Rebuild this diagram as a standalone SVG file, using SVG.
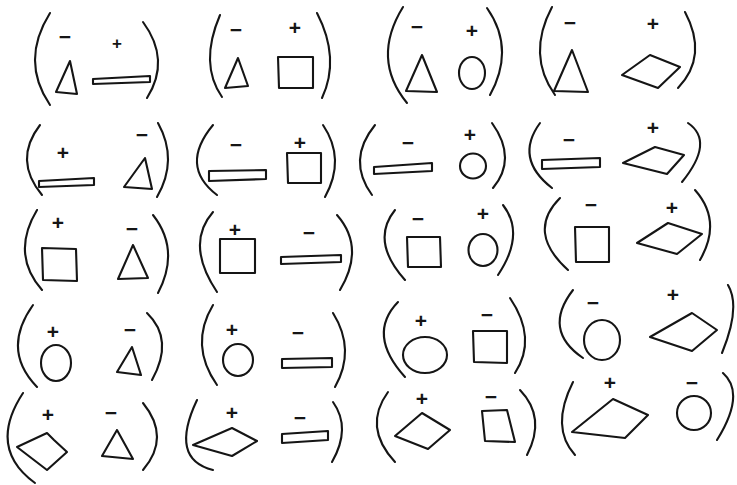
<svg xmlns="http://www.w3.org/2000/svg" width="737" height="485" viewBox="0 0 737 485">
<style>
.s{fill:none;stroke:#151515;stroke-width:2.1;stroke-linecap:round;stroke-linejoin:round}
.t{font-family:"Liberation Sans",Arial,sans-serif;font-size:21px;font-weight:bold;fill:#151515;text-anchor:middle}
.sm{font-size:17px}
</style>
<rect width="737" height="485" fill="#ffffff"/>
<g id="pair1">
<path class="s" d="M50,13 Q20,61 50,105"/><path class="s" d="M143,22 Q171,60 147,98"/>
<text class="t" x="65" y="44">−</text><text class="t sm" x="117" y="49">+</text>
<polygon class="s" points="70,61 56,92 77,94"/>
<polygon class="s" points="93,79 150,76 150,82 93,84"/>
</g>
<g id="pair2">
<path class="s" d="M220,15 Q199,64 222,97"/><path class="s" d="M317,13 Q340.5,58.5 322,98"/>
<text class="t" x="236" y="37">−</text><text class="t" x="295" y="35">+</text>
<polygon class="s" points="238,58 225,88 248,86"/>
<polygon class="s" points="278,57 313,57 313,88 279,88"/>
</g>
<g id="pair3">
<path class="s" d="M403,7 Q371,59 407,103"/><path class="s" d="M487,8 Q515.5,48.5 490,95"/>
<text class="t" x="417" y="34">−</text><text class="t" x="472" y="38">+</text>
<polygon class="s" points="422,55 406,91 437,92"/>
<ellipse class="s" cx="472" cy="73" rx="13" ry="16"/>
</g>
<g id="pair4">
<path class="s" d="M552,7 Q526.5,55 555,95"/><path class="s" d="M685,12 Q708.5,56 678,88"/>
<text class="t" x="570" y="30">−</text><text class="t" x="653" y="31">+</text>
<polygon class="s" points="572,50 554,91 588,92"/>
<polygon class="s" points="622,75 650,55 680,67 658,88"/>
</g>
<g id="pair5">
<path class="s" d="M40,125 Q13,160 42,195"/><path class="s" d="M158,123 Q178.5,160 157,197"/>
<text class="t" x="63" y="160">+</text><text class="t" x="142" y="142">−</text>
<polygon class="s" points="39,181 94,178 94,185 39,187"/>
<polygon class="s" points="145,158 124,187 152,189"/>
</g>
<g id="pair6">
<path class="s" d="M213,125 Q179,166 217,195"/><path class="s" d="M323,125 Q346,159 325,197"/>
<text class="t" x="236" y="152">−</text><text class="t" x="300" y="150">+</text>
<polygon class="s" points="209,171 266,170 266,179 209,181"/>
<polygon class="s" points="287,153 321,153 321,183 288,183"/>
</g>
<g id="pair7">
<path class="s" d="M375,125 Q346.5,160 372,195"/><path class="s" d="M492,123 Q517.5,158.5 493,188"/>
<text class="t" x="408" y="150">−</text><text class="t" x="470" y="142">+</text>
<polygon class="s" points="374,167 432,163 432,171 374,174"/>
<ellipse class="s" cx="473" cy="166" rx="13" ry="12.5"/>
</g>
<g id="pair8">
<path class="s" d="M540,123 Q514,158.5 552,188"/><path class="s" d="M688,123 Q715,141.5 682,182"/>
<text class="t" x="569" y="147">−</text><text class="t" x="653" y="135">+</text>
<polygon class="s" points="542,160 600,158 600,167 542,169"/>
<polygon class="s" points="623,163 655,147 684,155 667,174"/>
</g>
<g id="pair9">
<path class="s" d="M37,210 Q10.5,254 42,290"/><path class="s" d="M153,215 Q180.5,250 158,293"/>
<text class="t" x="58" y="230">+</text><text class="t" x="132" y="236">−</text>
<polygon class="s" points="42,248 76,249 77,281 43,280"/>
<polygon class="s" points="133,245 118,279 148,278"/>
</g>
<g id="pair10">
<path class="s" d="M213,212 Q185,244 217,292"/><path class="s" d="M337,215 Q365.5,247.5 340,290"/>
<text class="t" x="235" y="237">+</text><text class="t" x="309" y="240">−</text>
<polygon class="s" points="220,239 255,239 255,273 220,273"/>
<polygon class="s" points="281,257 341,255 341,262 281,264"/>
</g>
<g id="pair11">
<path class="s" d="M395,210 Q370,241 405,280"/><path class="s" d="M503,205 Q525.5,234 498,275"/>
<text class="t" x="418" y="226">−</text><text class="t" x="483" y="221">+</text>
<polygon class="s" points="407,237 440,237 441,267 408,267"/>
<ellipse class="s" cx="483" cy="250" rx="14.5" ry="16"/>
</g>
<g id="pair12">
<path class="s" d="M560,198 Q526,232 568,270"/><path class="s" d="M695,190 Q722.5,221 700,260"/>
<text class="t" x="591" y="212">−</text><text class="t" x="672" y="215">+</text>
<polygon class="s" points="575,227 609,227 609,262 576,262"/>
<polygon class="s" points="637,243 668,223 702,234 677,254"/>
</g>
<g id="pair13">
<path class="s" d="M33,305 Q1,350 37,387"/><path class="s" d="M147,313 Q174.5,339.5 152,380"/>
<text class="t" x="53" y="339">+</text><text class="t" x="130" y="337">−</text>
<ellipse class="s" cx="56" cy="363" rx="15" ry="18"/>
<polygon class="s" points="132,347 117,372 141,375"/>
</g>
<g id="pair14">
<path class="s" d="M213,305 Q189,345 217,385"/><path class="s" d="M333,313 Q356,350 335,387"/>
<text class="t" x="232" y="337">+</text><text class="t" x="298" y="340">−</text>
<ellipse class="s" cx="238" cy="360" rx="15" ry="16"/>
<polygon class="s" points="282,359 332,358 332,367 282,368"/>
</g>
<g id="pair15">
<path class="s" d="M398,302 Q366.5,334.5 405,377"/><path class="s" d="M510,298 Q537.5,338.5 515,373"/>
<text class="t" x="421" y="328">+</text><text class="t" x="487" y="322">−</text>
<ellipse class="s" cx="425" cy="355" rx="22" ry="18"/>
<polygon class="s" points="473,331 507,331 507,363 474,362"/>
</g>
<g id="pair16">
<path class="s" d="M573,290 Q542,330 583,358"/><path class="s" d="M728,285 Q741,307 722,353"/>
<text class="t" x="593" y="310">−</text><text class="t" x="673" y="302">+</text>
<ellipse class="s" cx="602" cy="340" rx="18" ry="20"/>
<polygon class="s" points="650,337 692,313 717,330 692,351"/>
</g>
<g id="pair17">
<path class="s" d="M23,393 Q-13,448 35,483"/><path class="s" d="M143,403 Q171,437.5 143,470"/>
<text class="t" x="48" y="422">+</text><text class="t" x="111" y="420">−</text>
<polygon class="s" points="17,447 47,433 54,440 67,452 47,470"/>
<polygon class="s" points="117,430 102,456 133,459"/>
</g>
<g id="pair18">
<path class="s" d="M197,400 Q169,459 213,470"/><path class="s" d="M333,402 Q351.5,428 332,462"/>
<text class="t" x="232" y="420">+</text><text class="t" x="300" y="425">−</text>
<polygon class="s" points="193,445 232,428 257,441 232,456"/>
<polygon class="s" points="282,434 328,431 328,440 282,443"/>
</g>
<g id="pair19">
<path class="s" d="M388,392 Q362.5,427 395,462"/><path class="s" d="M520,390 Q546.5,417.5 527,455"/>
<text class="t" x="422" y="406">+</text><text class="t" x="491" y="404">−</text>
<polygon class="s" points="395,436 422,413 450,430 428,449"/>
<polygon class="s" points="482,411 507,410 515,442 485,441"/>
</g>
<g id="pair20">
<path class="s" d="M573,382 Q550,427.5 575,455"/><path class="s" d="M723,373 Q746,393.5 717,440"/>
<text class="t" x="610" y="390">+</text><text class="t" x="692" y="390">−</text>
<polygon class="s" points="572,432 613,399 648,415 625,438"/>
<ellipse class="s" cx="694" cy="413" rx="17" ry="17"/>
</g>
<g id="connectors"/>
</svg>
